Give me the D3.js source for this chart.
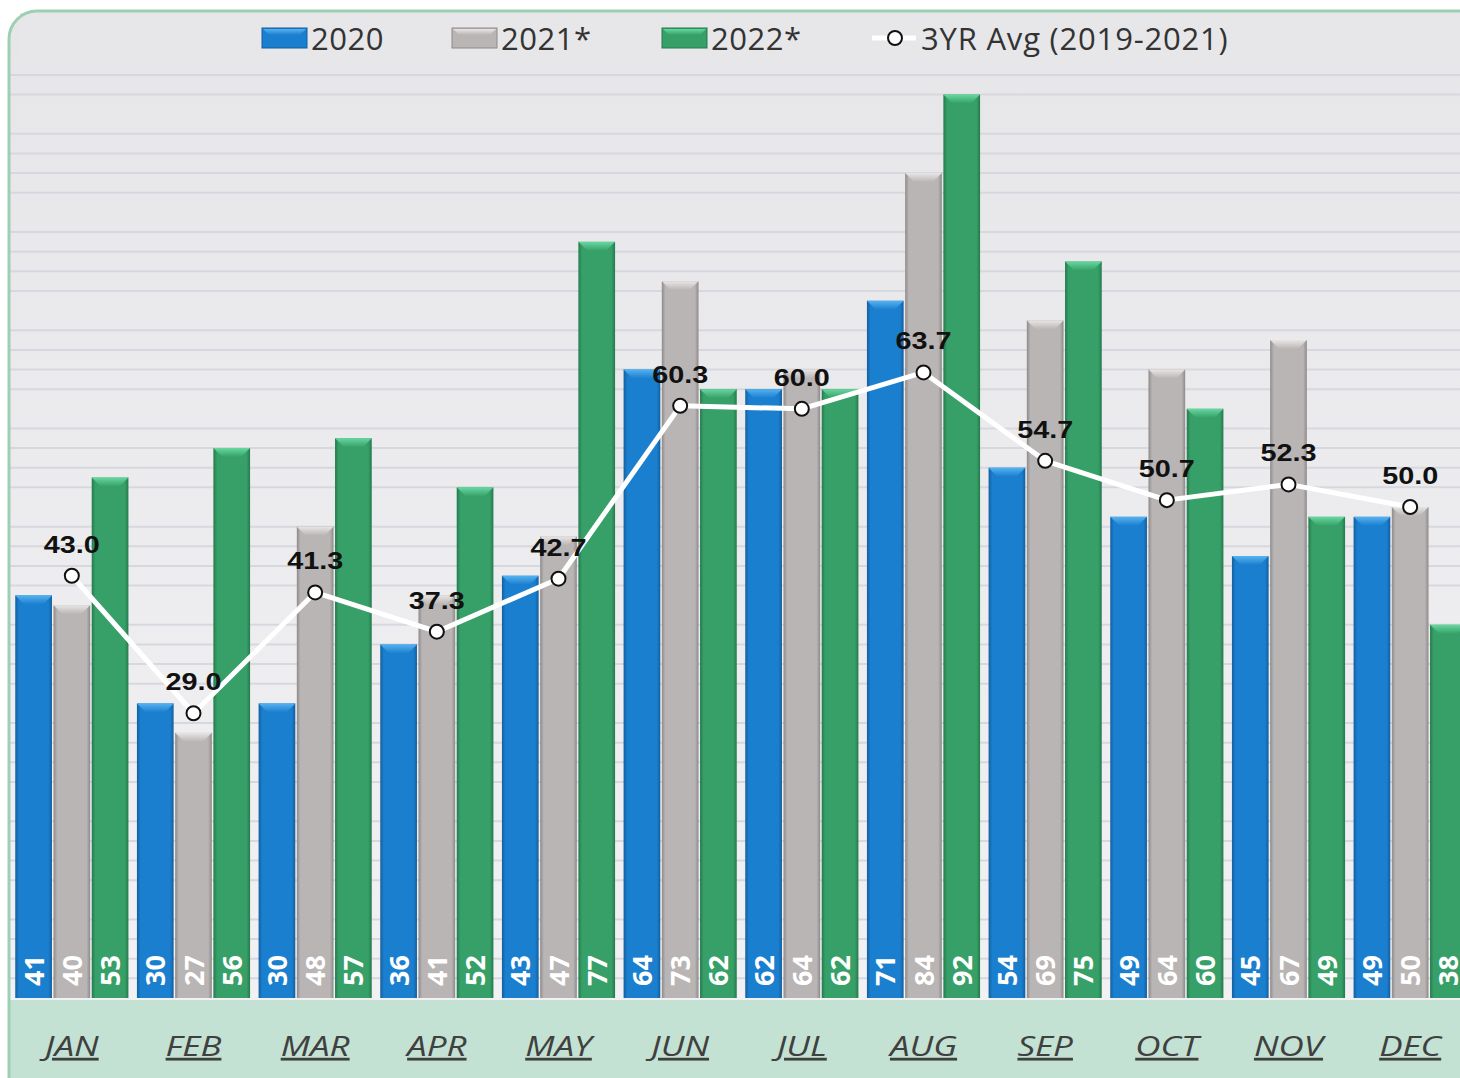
<!DOCTYPE html>
<html>
<head>
<meta charset="utf-8">
<script src="https://cdn.jsdelivr.net/npm/d3@7"></script>
<style>
  body { margin: 0; background: #fff; }
  svg { display: block; }
</style>
</head>
<body>
<script>
const months = ["JAN", "FEB", "MAR", "APR", "MAY", "JUN", "JUL", "AUG", "SEP", "OCT", "NOV", "DEC"];
const series = ["2020", "2021*", "2022*"];
const v2020 = [41, 30, 30, 36, 43, 64, 62, 71, 54, 49, 45, 49];
const v2021 = [40, 27, 48, 41, 47, 73, 64, 84, 69, 64, 67, 50];
const v2022 = [53, 56, 57, 52, 77, 62, 62, 92, 75, 60, 49, 38];
const avg3yr = [43.0, 29.0, 41.3, 37.3, 42.7, 60.3, 60.0, 63.7, 54.7, 50.7, 52.3, 50.0];
const avgLabel = "3YR Avg (2019-2021)";
// minor gridlines every 2, the 10s are not drawn
const gridTicks = d3.range(2, 96, 2).filter(d => d % 10 !== 0);

const W = 1460, H = 1078;
const base = 998;

const colors = {
  "2020": { main: "#1b7fcf", dark: "#135f9e", light: "#56b2f0" },
  "2021*": { main: "#bab5b5", dark: "#8f8a8a", light: "#e8e5e5" },
  "2022*": { main: "#37a068", dark: "#257a4d", light: "#66d8a0" }
};

const rows = months.map((m, i) => ({ month: m, vals: [v2020[i], v2021[i], v2022[i]], avg: avg3yr[i] }));

const svg = d3.select("body").append("svg").attr("width", W).attr("height", H);
const defs = svg.append("defs");

const bg = defs.append("linearGradient").attr("id", "bg").attr("x1", 0).attr("y1", 0).attr("x2", 0).attr("y2", 1);
bg.append("stop").attr("offset", "0%").attr("stop-color", "#e6e6e8");
bg.append("stop").attr("offset", "100%").attr("stop-color", "#f3f3f5");

series.forEach((s, k) => {
  const g = defs.append("linearGradient").attr("id", "bar" + k).attr("x1", 0).attr("y1", 0).attr("x2", 1).attr("y2", 0);
  g.append("stop").attr("offset", "0%").attr("stop-color", colors[s].dark);
  g.append("stop").attr("offset", "10%").attr("stop-color", colors[s].main);
  g.append("stop").attr("offset", "90%").attr("stop-color", colors[s].main);
  g.append("stop").attr("offset", "100%").attr("stop-color", colors[s].dark);
  const t = defs.append("linearGradient").attr("id", "top" + k).attr("x1", 0).attr("y1", 0).attr("x2", 0).attr("y2", 1);
  t.append("stop").attr("offset", "0%").attr("stop-color", colors[s].light);
  t.append("stop").attr("offset", "100%").attr("stop-color", colors[s].main);
});

defs.append("clipPath").attr("id", "frame")
  .append("rect").attr("x", 9).attr("y", 11).attr("width", W + 40).attr("height", H + 40).attr("rx", 28);

// frame + background
svg.append("rect").attr("x", 9).attr("y", 11).attr("width", W + 40).attr("height", H + 40)
  .attr("rx", 28).attr("fill", "url(#bg)");

const x0 = d3.scaleBand().domain(months).range([11, 1471]).paddingInner(0.07).paddingOuter(0.035);
const x1 = d3.scaleBand().domain(series).range([0, x0.bandwidth()]).paddingInner(0.04);
const y = d3.scaleLinear().domain([0, 100]).range([base, 16]);

const plot = svg.append("g").attr("clip-path", "url(#frame)");

// bottom category band
plot.append("rect").attr("x", 0).attr("y", base + 2).attr("width", W).attr("height", H - base).attr("fill", "#c3e2d3");

// gridlines
plot.append("g").selectAll("line").data(gridTicks).join("line")
  .attr("x1", 10).attr("x2", W)
  .attr("y1", d => y(d)).attr("y2", d => y(d))
  .attr("stroke", "#d7d7df").attr("stroke-width", 2);

// bars
const groups = plot.append("g").selectAll("g").data(rows).join("g")
  .attr("transform", d => `translate(${x0(d.month)},0)`);

const bars = groups.selectAll("g").data(d => d.vals.map((v, k) => ({ s: series[k], k, v }))).join("g");

bars.append("rect")
  .attr("x", d => x1(d.s)).attr("width", x1.bandwidth())
  .attr("y", d => y(d.v)).attr("height", d => base - y(d.v))
  .attr("fill", d => `url(#bar${d.k})`);

bars.append("path")
  .attr("d", d => {
    const a = x1(d.s), b = a + x1.bandwidth(), t = y(d.v), h = 9;
    return `M${a},${t}L${b},${t}L${b - h},${t + h}L${a + h},${t + h}Z`;
  })
  .attr("fill", d => `url(#top${d.k})`);

bars.append("text")
  .attr("transform", d => `translate(${x1(d.s) + x1.bandwidth() / 2 + 10},${base - 12}) rotate(-90)`)
  .attr("fill", "#fff")
  .attr("font-family", "'Open Sans', sans-serif")
  .attr("font-weight", 700)
  .attr("font-size", 27)
  .text(d => d.v);

// average line
const cx = d => x0(d.month) + x0.bandwidth() / 2;
const line = d3.line().x(cx).y(d => y(d.avg));

plot.append("path").datum(rows)
  .attr("d", line).attr("fill", "none")
  .attr("stroke", "#fff").attr("stroke-width", 5).attr("stroke-linejoin", "round");

plot.append("g").selectAll("circle").data(rows).join("circle")
  .attr("cx", cx).attr("cy", d => y(d.avg)).attr("r", 7)
  .attr("fill", "#fff").attr("stroke", "#111").attr("stroke-width", 2);

plot.append("g").selectAll("text").data(rows).join("text")
  .attr("transform", d => `translate(${cx(d)},${y(d.avg) - 23}) scale(1.2,1)`)
  .attr("text-anchor", "middle")
  .attr("font-family", "'Liberation Sans', Arial, sans-serif")
  .attr("font-weight", 700).attr("font-size", 24).attr("fill", "#111")
  .text(d => d.avg.toFixed(1));

// month labels
plot.append("g").selectAll("text").data(months).join("text")
  .attr("transform", d => `translate(${x0(d) + x0.bandwidth() / 2},1056) scale(1.25,1)`)
  .attr("text-anchor", "middle")
  .attr("font-family", "'Open Sans', sans-serif")
  .attr("font-style", "italic").attr("font-size", 28)
  .attr("text-decoration", "underline")
  .attr("fill", "#404040")
  .text(d => d);

// legend
const legend = svg.append("g");
legend.append("rect").attr("x", 20).attr("y", 13).attr("width", W).attr("height", 58).attr("fill", "#e7e7e9");

const legItems = [
  { label: "2020", x: 262, s: "2020" },
  { label: "2021*", x: 452, s: "2021*" },
  { label: "2022*", x: 662, s: "2022*" }
];
legItems.forEach((it, k) => {
  legend.append("rect").attr("x", it.x).attr("y", 28).attr("width", 45).attr("height", 20)
    .attr("fill", colors[it.s].main).attr("stroke", colors[it.s].dark).attr("stroke-width", 1);
  legend.append("path")
    .attr("d", `M${it.x + 1},29L${it.x + 44},29L${it.x + 38},35L${it.x + 7},35Z`)
    .attr("fill", `url(#top${k})`);
  legend.append("text").attr("x", it.x + 49).attr("y", 50)
    .attr("font-family", "'Open Sans', sans-serif").attr("font-size", 31).attr("fill", "#333")
    .attr("letter-spacing", 0.5)
    .text(it.label);
});
legend.append("line").attr("x1", 872).attr("x2", 916).attr("y1", 38).attr("y2", 38)
  .attr("stroke", "#fff").attr("stroke-width", 5);
legend.append("circle").attr("cx", 895).attr("cy", 38).attr("r", 7)
  .attr("fill", "#fff").attr("stroke", "#111").attr("stroke-width", 2);
legend.append("text").attr("x", 921).attr("y", 50)
  .attr("font-family", "'Open Sans', sans-serif").attr("font-size", 31).attr("fill", "#333")
  .attr("letter-spacing", 0.8)
  .text(avgLabel);

// frame border
svg.append("rect").attr("x", 9).attr("y", 11).attr("width", W + 40).attr("height", H + 40)
  .attr("rx", 28).attr("fill", "none").attr("stroke", "#9ccfb4").attr("stroke-width", 3);
</script>
</body>
</html>
